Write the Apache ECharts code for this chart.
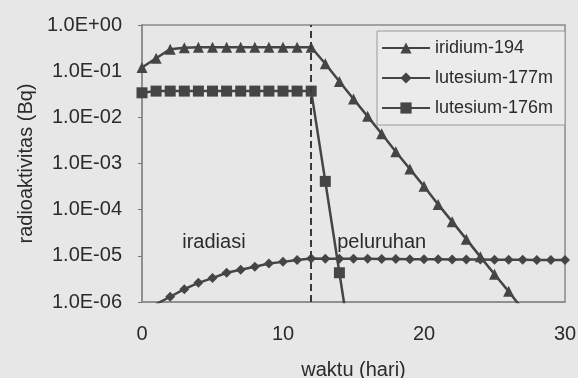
<!DOCTYPE html>
<html>
<head>
<meta charset="utf-8">
<script src="https://cdn.jsdelivr.net/npm/echarts@6/dist/echarts.min.js"></script>
<style>
  html, body { margin: 0; padding: 0; background: #e7e7e7; }
  #chart { width: 578px; height: 378px; }
</style>
</head>
<body>
<div id="chart"></div>
<script>
// ---- data ----
var days = [0,1,2,3,4,5,6,7,8,9,10,11,12,13,14,15,16,17,18,19,20,21,22,23,24,25,26,27,28,29,30];
var ir194 = [0.12, 0.19, 0.30, 0.32, 0.33, 0.33, 0.33, 0.33, 0.33, 0.33, 0.33, 0.33, 0.33,
             0.145, 0.060, 0.025, 0.0105, 0.0044, 0.0018, 7.6e-4, 3.2e-4, 1.3e-4, 5.5e-5,
             2.3e-5, 9.5e-6, 4.0e-6, 1.7e-6, 6.9e-7, null, null, null];
var lu177m = [null, 9.0e-7, 1.3e-6, 1.9e-6, 2.6e-6, 3.3e-6, 4.3e-6, 5.0e-6, 5.8e-6, 6.8e-6, 7.4e-6,
              8.1e-6, 8.8e-6, 8.7e-6, 8.7e-6, 8.6e-6, 8.6e-6, 8.5e-6, 8.5e-6, 8.4e-6, 8.4e-6,
              8.4e-6, 8.3e-6, 8.3e-6, 8.3e-6, 8.2e-6, 8.2e-6, 8.2e-6, 8.1e-6, 8.1e-6, 8.1e-6];
var lu176m = [0.034, 0.037, 0.037, 0.037, 0.037, 0.037, 0.037, 0.037, 0.037, 0.037, 0.037, 0.037, 0.037,
              4.1e-4, 4.3e-6, 4.5e-8, null, null, null, null, null, null, null, null, null, null,
              null, null, null, null, null];
var seriesNames = ['iridium-194', 'lutesium-177m', 'lutesium-176m'];
var xTicks = [0, 10, 20, 30];
var yTickLabels = ['1.0E-06', '1.0E-05', '1.0E-04', '1.0E-03', '1.0E-02', '1.0E-01', '1.0E+00'];
var irradiationEnd = 12;
var annotations = [
  { text: 'iradiasi', x: 5.1, y: 1.9e-5 },
  { text: 'peluruhan', x: 17.0, y: 1.9e-5 }
];

function pairs(vals) {
  var out = [];
  for (var i = 0; i < days.length; i++) {
    if (vals[i] !== null) out.push([days[i], vals[i]]);
  }
  return out;
}

var FONT = 'Liberation Sans, Arial, sans-serif';
var TXT = '#2b2b2b';
var LINE = '#454545';

var chart = echarts.init(document.getElementById('chart'), null, { renderer: 'canvas' });

function lineSeries(name, vals, symbol, size) {
  return {
    name: name,
    type: 'line',
    data: pairs(vals),
    symbol: symbol,
    symbolSize: size,
    clip: true,
    lineStyle: { color: LINE, width: 2.5 },
    itemStyle: { color: LINE },
    animation: false
  };
}

var s1 = lineSeries(seriesNames[0], ir194, 'triangle', 11);
var s2 = lineSeries(seriesNames[1], lu177m, 'diamond', 10);
var s3 = lineSeries(seriesNames[2], lu176m, 'rect', 11);

s1.markLine = {
  silent: true,
  symbol: 'none',
  label: { show: false },
  lineStyle: { color: '#3a3a3a', width: 2, type: [7, 4] },
  data: [{ xAxis: irradiationEnd }],
  animation: false
};
s2.markPoint = {
  silent: true,
  symbol: 'circle',
  symbolSize: 0,
  label: {
    show: true, position: 'inside', color: TXT, fontFamily: FONT, fontSize: 20,
    formatter: function (p) { return p.name; }
  },
  data: annotations.map(function (a) { return { name: a.text, coord: [a.x, a.y] }; }),
  animation: false
};

chart.setOption({
  backgroundColor: '#e7e7e7',
  animation: false,
  textStyle: { fontFamily: FONT, color: TXT },
  grid: {
    left: 142, right: 13, top: 25, bottom: 76,
    containLabel: false,
    outerBoundsMode: 'none',
    show: true, borderColor: '#8a8a8a', borderWidth: 1.5, backgroundColor: 'transparent'
  },
  legend: {
    data: seriesNames,
    orient: 'vertical',
    left: 377, top: 31,
    itemWidth: 48, itemHeight: 14, itemGap: 12,
    padding: [8, 12, 8, 4],
    backgroundColor: '#ebebeb',
    borderColor: '#9a9a9a', borderWidth: 1,
    textStyle: { fontFamily: FONT, fontSize: 18, color: TXT, padding: [0, 0, 0, 0] }
  },
  xAxis: {
    type: 'value', min: 0, max: 30, interval: 10,
    name: 'waktu (hari)', nameLocation: 'middle', nameGap: 58,
    nameTextStyle: { fontFamily: FONT, fontSize: 20, color: TXT },
    axisLine: { show: true, lineStyle: { color: '#8a8a8a', width: 1.5 } },
    axisTick: { show: false },
    splitLine: { show: false },
    axisLabel: {
      fontFamily: FONT, fontSize: 20, color: TXT, margin: 22,
      formatter: function (v) { return xTicks.indexOf(v) >= 0 ? String(v) : ''; }
    }
  },
  yAxis: {
    type: 'log', logBase: 10, min: 1e-6, max: 1,
    name: 'radioaktivitas (Bq)', nameLocation: 'middle', nameGap: 106,
    nameTextStyle: { fontFamily: FONT, fontSize: 20, color: TXT },
    axisLine: { show: true, lineStyle: { color: '#8a8a8a', width: 1.5 } },
    axisTick: { show: true, length: 4, inside: false, lineStyle: { color: '#777' } },
    splitLine: { show: false },
    axisLabel: {
      fontFamily: FONT, fontSize: 20, color: TXT, margin: 20,
      formatter: function (v) {
        var e = Math.round(Math.log(v) / Math.LN10);
        return yTickLabels[e + 6] || '';
      }
    }
  },
  series: [s1, s2, s3]
});
</script>
</body>
</html>
